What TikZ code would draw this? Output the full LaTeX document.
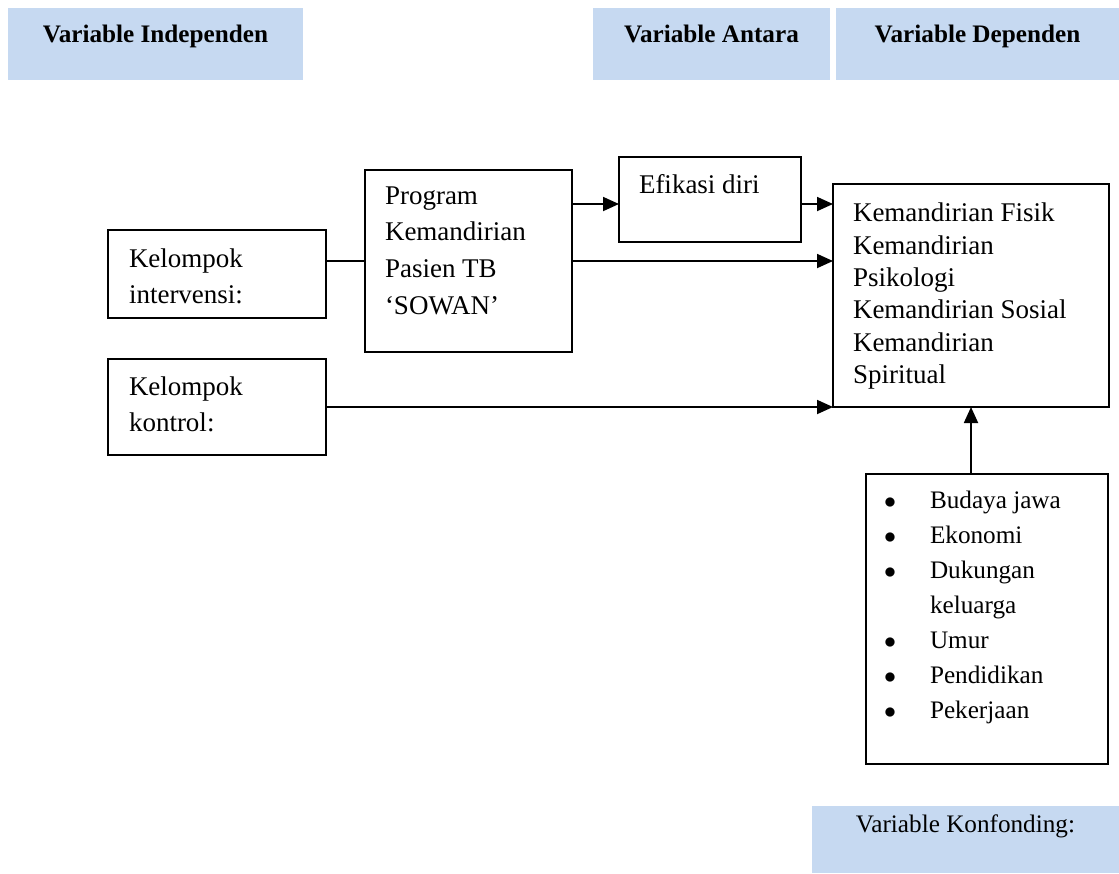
\documentclass[tikz,border=0pt]{standalone}
\usepackage{fontspec}
\setmainfont{Liberation Serif}
\usetikzlibrary{arrows.meta,calc}
\definecolor{headcol}{RGB}{198,217,241}
% width, height, top pad, left pad, text
\newcommand{\boxtext}[5]{\parbox[c][#2][t]{#1}{\raggedright\leftskip=#4\relax\vspace*{#3}#5}}
\newcommand{\headtext}[4]{\parbox[c][#2][t]{#1}{\centering\vspace*{#3}#4}}
\newcommand{\bitem}{\leavevmode\llap{$\bullet$\hspace{17pt}}}
\tikzset{
  box/.style  = {draw, line width=0.9pt, inner sep=0pt, outer sep=0pt,
                 anchor=north west, font=\fontsize{13.5}{18.3}\selectfont},
  head/.style = {fill=headcol, inner sep=0pt, outer sep=0pt,
                 anchor=north west, font=\fontsize{12.6}{15}\selectfont},
  link/.style = {line width=0.9pt},
  flow/.style = {-{Triangle[length=8pt,width=7pt]}, line width=0.9pt},
}

\begin{document}
\begin{tikzpicture}[x=1pt, y=-1pt]
  \useasboundingbox (0,0) rectangle (559.5,436.5);

  \node[head] (hind) at (4,4)     {\headtext{147.5pt}{36pt}{8.4pt}{\textbf{Variable Independen}}};
  \node[head] (hant) at (296.5,4) {\headtext{118.5pt}{36pt}{8.4pt}{\textbf{Variable Antara}}};
  \node[head] (hdep) at (418,4)   {\headtext{141.5pt}{36pt}{8.4pt}{\textbf{Variable Dependen}}};

  \node[box] (kint) at (54,115)
       {\boxtext{109pt}{44pt}{9.3pt}{10.5pt}{Kelompok\\intervensi:}};
  \node[box] (kkon) at (54,179.5)
       {\boxtext{109pt}{48pt}{8.8pt}{10.5pt}{Kelompok\\kontrol:}};
  \node[box] (prog) at (182.5,85)
       {\boxtext{103.5pt}{91pt}{8.3pt}{10pt}{Program\\Kemandirian\\Pasien TB\\‘SOWAN’}};
  \node[box] (efik) at (309.5,78.5)
       {\boxtext{91pt}{42.5pt}{8.8pt}{10pt}{Efikasi diri}};
  \node[box, font=\fontsize{13.5}{16.2}\selectfont] (kmd) at (416.5,92)
       {\boxtext{138pt}{111.5pt}{9.5pt}{10pt}{Kemandirian Fisik\\Kemandirian\\Psikologi\\
        Kemandirian Sosial\\Kemandirian\\Spiritual}};
  \node[box, font=\fontsize{12.6}{17.5}\selectfont] (konf) at (433,237)
       {\boxtext{121pt}{145pt}{8.4pt}{32pt}{\bitem Budaya jawa\\ \bitem Ekonomi\\
        \bitem Dukungan\\keluarga\\ \bitem Umur\\ \bitem Pendidikan\\ \bitem Pekerjaan}};

  \node[head] (hkon) at (406,403) {\headtext{153.5pt}{33.5pt}{4.2pt}{Variable Konfonding:}};

  \draw[link] (prog.west) -- (prog.west -| kint.east);
  \draw[flow] ([yshift=-2.25pt]efik.west -| prog.east) -- ([yshift=-2.25pt]efik.west);
  \draw[flow] ([yshift=-2.25pt]efik.east) -- ([yshift=-2.25pt]efik.east -| kmd.west);
  \draw[flow] (prog.east) -- (prog.east -| kmd.west);
  \draw[flow] (kkon.east) -- (kkon.east -| kmd.west);
  \draw[flow] (konf.north -| kmd.south) -- (kmd.south);
\end{tikzpicture}
\end{document}
